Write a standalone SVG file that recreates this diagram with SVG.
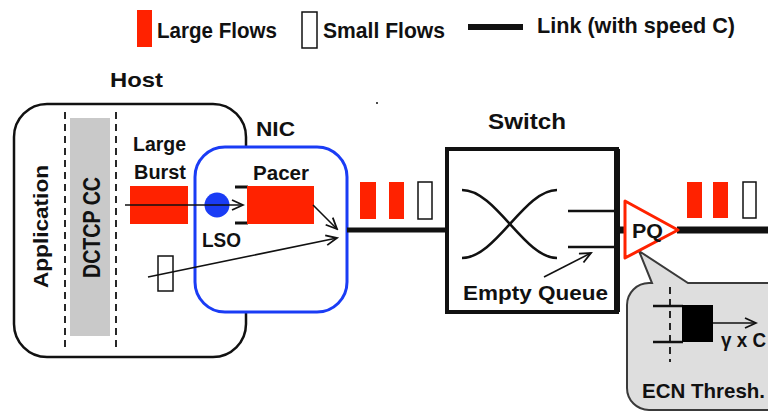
<svg xmlns="http://www.w3.org/2000/svg" width="768" height="416" viewBox="0 0 768 416">
<defs>
<marker id="arr" markerUnits="userSpaceOnUse" markerWidth="14" markerHeight="12" refX="12" refY="6" orient="auto">
<path d="M1,1 L12,6 L1,11" fill="none" stroke="#111" stroke-width="1.8"/>
</marker>
<style>
.t{font-family:"Liberation Sans",Arial,sans-serif;font-weight:bold;fill:#111;}
.red{fill:#ff2200;}
.small{fill:#fff;stroke:#111;stroke-width:1.5;}
.ln{stroke:#111;fill:none;}
.dash{stroke:#111;stroke-width:1.8;stroke-dasharray:7 5;fill:none;}
.ar{stroke:#111;stroke-width:1.6;fill:none;marker-end:url(#arr);}
</style>
</defs>
<rect width="768" height="416" fill="#fff"/>

<g id="legend">
<rect class="red" x="137" y="10" width="15" height="37"/>
<text class="t" x="157" y="38" font-size="22" textLength="120" lengthAdjust="spacingAndGlyphs">Large Flows</text>
<rect class="small" x="302" y="12" width="15" height="36"/>
<text class="t" x="323" y="38" font-size="22" textLength="122" lengthAdjust="spacingAndGlyphs">Small Flows</text>
<line class="ln" x1="468" y1="27" x2="523" y2="27" stroke-width="6"/>
<text class="t" x="537" y="33" font-size="22" textLength="198" lengthAdjust="spacingAndGlyphs">Link (with speed C)</text>
</g>

<circle cx="377" cy="103" r="1" fill="#111"/>

<g id="host">
<text class="t" x="110" y="87" font-size="21" textLength="53" lengthAdjust="spacingAndGlyphs">Host</text>
<rect x="14" y="104" width="232" height="253" rx="33" fill="#fff" stroke="#111" stroke-width="2.5"/>
<rect x="70" y="118" width="40" height="218" fill="#c9c9c9"/>
<line class="dash" x1="65" y1="112" x2="65" y2="352"/>
<line class="dash" x1="116" y1="112" x2="116" y2="352"/>
<text class="t" transform="translate(48,288) rotate(-90)" font-size="21" textLength="123" lengthAdjust="spacingAndGlyphs">Application</text>
<text class="t" transform="translate(100,278) rotate(-90)" font-size="23" textLength="101" lengthAdjust="spacingAndGlyphs">DCTCP CC</text>
<text class="t" x="133" y="151" font-size="20" textLength="53" lengthAdjust="spacingAndGlyphs">Large</text>
<text class="t" x="134" y="179" font-size="20" textLength="52" lengthAdjust="spacingAndGlyphs">Burst</text>
<rect class="red" x="130" y="186" width="58" height="38"/>
<rect class="small" x="158" y="256" width="15" height="35"/>
</g>

<g id="nic">
<text class="t" x="256" y="136" font-size="21" textLength="39" lengthAdjust="spacingAndGlyphs">NIC</text>
<rect x="195" y="147" width="152" height="165" rx="30" fill="#fff" stroke="#1a3cf5" stroke-width="3"/>
<circle cx="217" cy="205" r="12.5" fill="#1a3cf5"/>
<text class="t" x="253" y="180" font-size="20" textLength="56" lengthAdjust="spacingAndGlyphs">Pacer</text>
<line class="ln" x1="235" y1="187" x2="248" y2="187" stroke-width="3"/>
<line class="ln" x1="235" y1="223" x2="248" y2="223" stroke-width="3"/>
<rect class="red" x="247" y="186" width="67" height="38"/>
<text class="t" x="202" y="247" font-size="20" textLength="39" lengthAdjust="spacingAndGlyphs">LSO</text>
</g>

<g id="switch">
<text class="t" x="488" y="129" font-size="22" textLength="78" lengthAdjust="spacingAndGlyphs">Switch</text>
<rect x="447" y="149" width="170" height="163" fill="#fff" stroke="#111" stroke-width="4"/>
<line class="ln" x1="617" y1="149" x2="617" y2="312" stroke-width="6"/>
<path class="ln" stroke-width="2.5" d="M462,190 C496,190 524,258 557,258"/>
<path class="ln" stroke-width="2.5" d="M462,258 C496,258 524,190 557,190"/>
<line class="ln" x1="568" y1="211" x2="616" y2="211" stroke-width="2.5"/>
<line class="ln" x1="568" y1="247" x2="616" y2="247" stroke-width="2.5"/>
<text class="t" x="463" y="300" font-size="20" textLength="145" lengthAdjust="spacingAndGlyphs">Empty Queue</text>
</g>

<g id="callout">
<path d="M627,305 A22,22 0 0 1 649,283 L652,283 L639,251 L688,283 L790,283 L790,410 L649,410 A22,22 0 0 1 627,388 Z" fill="#dedede" stroke="#3a3a3a" stroke-width="2"/>
<line x1="670" y1="287" x2="670" y2="362" stroke="#111" stroke-width="1.8" stroke-dasharray="7 5"/>
<line class="ln" x1="653" y1="306" x2="683" y2="306" stroke-width="2.5"/>
<line class="ln" x1="653" y1="342" x2="683" y2="342" stroke-width="2.5"/>
<rect x="682" y="305" width="31" height="37" fill="#000"/>
<text class="t" x="721" y="347" font-size="20" textLength="45" lengthAdjust="spacingAndGlyphs">γ x C</text>
<text class="t" x="642" y="398" font-size="21" textLength="123" lengthAdjust="spacingAndGlyphs">ECN Thresh.</text>
</g>

<g id="flows">
<rect class="red" x="360" y="182" width="16" height="37"/>
<rect class="red" x="389" y="182" width="15" height="37"/>
<rect class="small" x="418" y="182" width="14" height="37"/>
<rect class="red" x="687" y="182" width="15" height="36"/>
<rect class="red" x="713" y="182" width="15" height="36"/>
<rect class="small" x="743" y="182" width="13" height="36"/>
</g>

<g id="connectors">
<line class="ln" x1="347" y1="230" x2="447" y2="230" stroke-width="5"/>
<line class="ln" x1="617" y1="230" x2="626" y2="230" stroke-width="7"/>
<line class="ln" x1="677" y1="230" x2="768" y2="230" stroke-width="7"/>
<line class="ar" x1="125" y1="205" x2="243" y2="205"/>
<line class="ar" x1="313" y1="205" x2="337" y2="229"/>
<line class="ar" x1="148" y1="277" x2="337" y2="238"/>
<line class="ar" x1="544" y1="277" x2="591" y2="253"/>
<line class="ar" x1="713" y1="323" x2="756" y2="323"/>
</g>

<g id="pq">
<polygon points="625,201 678,230 625,258" fill="#fff" stroke="#ff2200" stroke-width="3" stroke-linejoin="round"/>
<text class="t" x="632" y="238" font-size="21" textLength="31" lengthAdjust="spacingAndGlyphs">PQ</text>
</g>
</svg>
